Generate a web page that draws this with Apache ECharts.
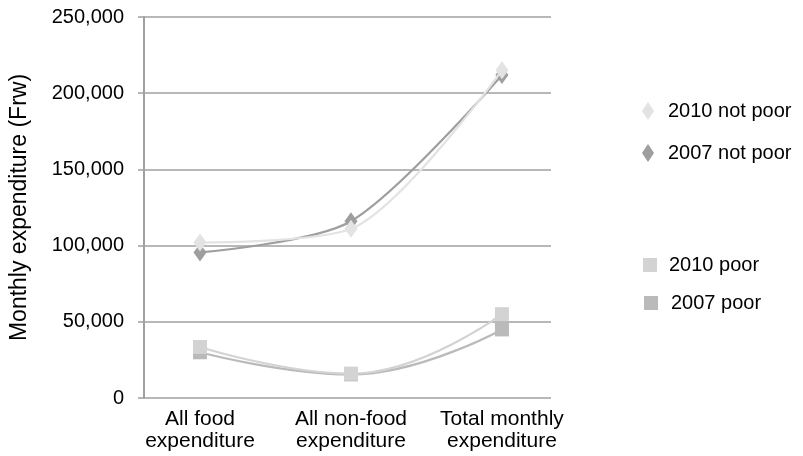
<!DOCTYPE html>
<html><head><meta charset="utf-8">
<script src="https://cdn.jsdelivr.net/npm/echarts@6/dist/echarts.min.js"></script>
<style>html,body{margin:0;padding:0;background:#fff}#c{width:803px;height:456px}</style>
</head><body><div id="c"></div>
<script>
const categories = ['All food\nexpenditure', 'All non-food\nexpenditure', 'Total monthly\nexpenditure'];
const yTicks = [0, 50000, 100000, 150000, 200000, 250000];
const notPoor2010 = [102000, 111000, 215000];
const notPoor2007 = [95500, 116000, 212000];
const poor2010 = [33500, 16000, 55000];
const poor2007 = [30000, 15500, 45000];

const names = ['2010 not poor', '2007 not poor', '2010 poor', '2007 poor'];
const colors = ['#e3e3e3', '#9e9e9e', '#d3d3d3', '#bababa'];
const symbols = ['diamond', 'diamond', 'rect', 'rect'];
const smoothing = [0.28, 0.28, 0.45, 0.45];
const dataSets = [notPoor2010, notPoor2007, poor2010, poor2007];

const chart = echarts.init(document.getElementById('c'), null, {renderer: 'canvas'});
const font = 'Liberation Sans, Arial, sans-serif';
const series = names.map((n, i) => ({
  name: n, type: 'line', smooth: smoothing[i],
  data: dataSets[i].map((v, j) => [j + 1, v]),
  symbol: symbols[i], symbolSize: symbols[i] === 'rect' ? 14 : [13, 18],
  showSymbol: true,
  lineStyle: {color: colors[i], width: 2.2},
  itemStyle: {color: colors[i]},
  z: [4, 3, 3, 2][i]
}));

const legendTops = [96, 138, 250, 288];
const legendLefts = [637, 637, 638, 639];
const legendPads = [9, 9, 7, 8];
chart.setOption({
  animation: false,
  textStyle: {fontFamily: font},
  grid: {left: 144, right: 252, top: 17, bottom: 58},
  legend: names.map((n, i) => ({
    data: [{name: n, icon: symbols[i]}],
    left: legendLefts[i], top: legendTops[i], orient: 'vertical',
    itemWidth: i < 2 ? 12 : 14, itemHeight: i < 2 ? 18 : 14, itemGap: 10,
    textStyle: {fontSize: 20, color: '#000', fontFamily: font, padding: [0, 0, 0, legendPads[i]]},
    selectedMode: false
  })),
  xAxis: {
    type: 'value', min: 0.629, max: 3.325,
    axisLine: {show: false}, axisTick: {show: false}, splitLine: {show: false},
    axisLabel: {
      customValues: [1, 2, 3],
      formatter: v => categories[Math.round(v) - 1],
      fontSize: 21, color: '#000', lineHeight: 22, margin: 10, fontFamily: font
    }
  },
  yAxis: {
    type: 'value', min: yTicks[0], max: yTicks[yTicks.length - 1], interval: 50000,
    name: 'Monthly expenditure (Frw)', nameLocation: 'middle', nameGap: 113, nameRotate: 90,
    nameTextStyle: {fontSize: 23, color: '#000', fontFamily: font},
    axisLine: {show: true, lineStyle: {color: '#a0a0a0', width: 2}},
    axisTick: {show: true, length: 6, lineStyle: {color: '#a0a0a0', width: 1.5}},
    splitLine: {show: true, lineStyle: {color: '#a0a0a0', width: 1.5}},
    axisLabel: {fontSize: 20, color: '#000', margin: 20, fontFamily: font, padding: [6, 0, 0, 0],
      formatter: v => v.toLocaleString('en-US')}
  },
  series: series
});
</script></body></html>
